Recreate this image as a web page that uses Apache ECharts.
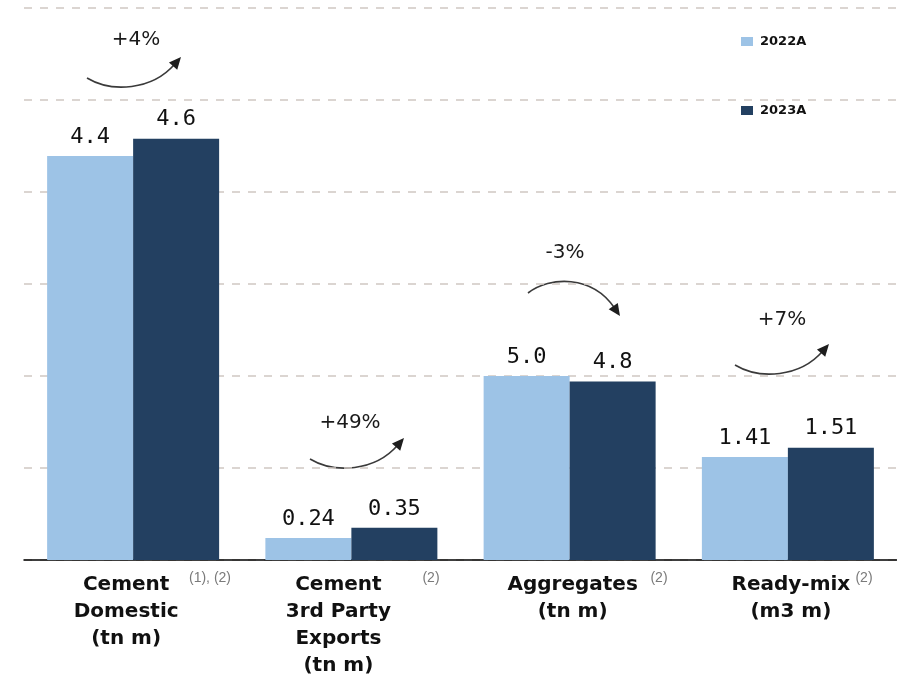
<!DOCTYPE html>
<html>
<head>
<meta charset="utf-8">
<script src="https://cdn.jsdelivr.net/npm/echarts@6/dist/echarts.min.js"></script>
<style>html,body{margin:0;padding:0;background:#fff}#c{width:897px;height:678px}</style>
</head>
<body>
<div id="c"></div>
<script>
// ---- data ----
const categories = ['Cement\nDomestic\n(tn m)', 'Cement\n3rd Party\nExports\n(tn m)', 'Aggregates\n(tn m)', 'Ready-mix\n(m3 m)'];
const seriesNames = ['2022A', '2023A'];
// bar heights as drawn on the (unlabelled) value axis
const heights2022 = [4.39, 0.24, 2.00, 1.12];
const heights2023 = [4.58, 0.35, 1.94, 1.22];
// value labels printed above bars
const labels2022 = ['4.4', '0.24', '5.0', '1.41'];
const labels2023 = ['4.6', '0.35', '4.8', '1.51'];
const growth = ['+4%', '+49%', '-3%', '+7%'];
const notes = ['(1), (2)', '(2)', '(2)', '(2)'];
const yTicks = [0, 1, 2, 3, 4, 5, 6];

const colors = ['#9dc3e6', '#234061'];

const chart = echarts.init(document.getElementById('c'), null, {renderer: 'canvas'});

// annotation helpers
function arrow(p0, c1, c2, tip) {
  const dx = tip[0] - c2[0], dy = tip[1] - c2[1];
  const len = Math.sqrt(dx * dx + dy * dy);
  const ux = dx / len, uy = dy / len;
  const L = 12, W = 5.5;
  const bx = tip[0] - ux * L, by = tip[1] - uy * L;
  const nx = -uy, ny = ux;
  return [
    {type: 'bezierCurve', shape: {x1: p0[0], y1: p0[1], cpx1: c1[0], cpy1: c1[1], cpx2: c2[0], cpy2: c2[1], x2: bx + ux * 2, y2: by + uy * 2},
     style: {stroke: '#3a3a3a', lineWidth: 1.6, fill: null}},
    {type: 'polygon', shape: {points: [tip, [bx + nx * W, by + ny * W], [bx - nx * W, by - ny * W]]},
     style: {fill: '#1e1e1e'}}
  ];
}
function shiftArrow(dx, dy) {
  return arrow([87 + dx, 78 + dy], [112 + dx, 93 + dy], [152 + dx, 90 + dy], [181 + dx, 57 + dy]);
}
const arrowPaths = [
  ...shiftArrow(0, 0),
  ...shiftArrow(223, 381),
  ...arrow([528, 293], [550, 276], [592, 275], [620, 316]),
  ...shiftArrow(648, 287)
];
const growthPos = [[136, 40], [350, 423], [565, 253], [782, 320]];
const notePos = [[210, 578], [431, 578], [659, 578], [864, 578]];
const labelShift = [-7, -13, 3, 3];

const graphics = arrowPaths.concat(
  growth.map((g, i) => ({type: 'text', x: growthPos[i][0], y: growthPos[i][1],
    style: {text: g, fontFamily: 'DejaVu Sans', fontSize: 20, fill: '#1a1a1a', align: 'center', verticalAlign: 'middle'}})),
  notes.map((n, i) => ({type: 'text', x: notePos[i][0], y: notePos[i][1],
    style: {text: n, fontFamily: 'Liberation Sans', fontSize: 14, fill: '#7a7a7a', align: 'center', verticalAlign: 'middle'}}))
);

function barLabel(arr) {
  return {
    show: true, position: 'top', distance: 8,
    fontFamily: 'DejaVu Sans Mono', fontSize: 22, color: '#111',
    formatter: p => arr[p.dataIndex]
  };
}

const rich = {};
labelShift.forEach((s, i) => {
  rich['c' + i] = {fontFamily: 'DejaVu Sans', fontWeight: 'bold', fontSize: 20, lineHeight: 27, color: '#111',
    padding: s < 0 ? [0, -2 * s, 0, 0] : [0, 0, 0, 2 * s]};
});

chart.setOption({
  animation: false,
  backgroundColor: '#fff',
  color: colors,
  grid: {left: 24, top: 8, width: 878, height: 552, containLabel: false},
  legend: {
    data: seriesNames, orient: 'vertical', left: 741, top: 35, itemGap: 56,
    icon: 'rect', itemWidth: 12, itemHeight: 9, padding: 0,
    textStyle: {fontFamily: 'DejaVu Sans', fontWeight: 'bold', fontSize: 13, color: '#111', padding: [0, 0, 0, 2]}
  },
  xAxis: {
    type: 'category', data: categories,
    axisLine: {show: true, lineStyle: {color: '#000', width: 1.5}},
    axisTick: {show: false},
    axisLabel: {
      interval: 0, margin: 11,
      formatter: (v, i) => v.split('\n').map(l => '{c' + i + '|' + l + '}').join('\n'),
      rich: rich
    }
  },
  yAxis: {
    type: 'value', min: yTicks[0], max: yTicks[yTicks.length - 1], interval: 1,
    axisLabel: {show: false}, axisLine: {show: false}, axisTick: {show: false},
    splitLine: {show: true, lineStyle: {color: '#cfc8c2', type: [8, 8], width: 1.5}}
  },
  series: [
    {name: seriesNames[0], type: 'bar', data: heights2022, barWidth: 86, barGap: '0%', label: barLabel(labels2022), itemStyle: {color: colors[0]}},
    {name: seriesNames[1], type: 'bar', data: heights2023, barWidth: 86, barGap: '0%', label: barLabel(labels2023), itemStyle: {color: colors[1]}}
  ],
  graphic: graphics
});
</script>
</body>
</html>
